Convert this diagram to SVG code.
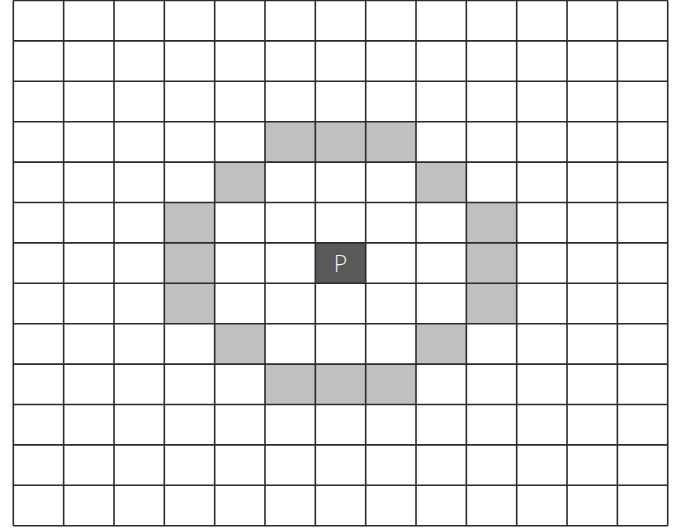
<svg xmlns="http://www.w3.org/2000/svg" width="684" height="529" viewBox="0 0 684 529">
<style>
.g{fill:#c0c0c0}
.p{fill:#595959}
.ln{stroke:#2b2b2b;stroke-width:1.6;fill:none}
.t{font-family:"Open Sans","Noto Sans",sans-serif;font-size:23px;font-weight:300;fill:#f2f2f2}
</style>
<rect width="684" height="529" fill="#ffffff"/>
<g id="ring">
<rect class="g" x="265.0" y="121.7" width="150.98" height="40.4"/>
<rect class="g" x="214.66" y="162.1" width="50.34" height="40.4"/>
<rect class="g" x="416.02" y="162.1" width="50.34" height="40.4"/>
<rect class="g" x="164.32" y="202.5" width="50.34" height="121.2"/>
<rect class="g" x="466.36" y="202.5" width="50.34" height="121.2"/>
<rect class="g" x="214.66" y="323.7" width="50.34" height="40.4"/>
<rect class="g" x="416.02" y="323.7" width="50.34" height="40.4"/>
<rect class="g" x="265.0" y="364.1" width="150.98" height="40.4"/>
</g>
<g id="P">
<rect class="p" x="315.34" y="242.9" width="50.34" height="40.4"/>
<text class="t" x="340.5" y="271.5" text-anchor="middle">P</text>
</g>
<g id="grid" class="ln">
<path d="M13.3 0.5V525.7M63.64 0.5V525.7M113.98 0.5V525.7M164.32 0.5V525.7M214.66 0.5V525.7M265 0.5V525.7M315.34 0.5V525.7M365.68 0.5V525.7M416.02 0.5V525.7M466.36 0.5V525.7M516.7 0.5V525.7M567.04 0.5V525.7M617.38 0.5V525.7M667.72 0.5V525.7"/>
<path d="M13.3 0.5H667.72M13.3 40.9H667.72M13.3 81.3H667.72M13.3 121.7H667.72M13.3 162.1H667.72M13.3 202.5H667.72M13.3 242.9H667.72M13.3 283.3H667.72M13.3 323.7H667.72M13.3 364.1H667.72M13.3 404.5H667.72M13.3 444.9H667.72M13.3 485.3H667.72M13.3 525.7H667.72"/>
</g>
</svg>
